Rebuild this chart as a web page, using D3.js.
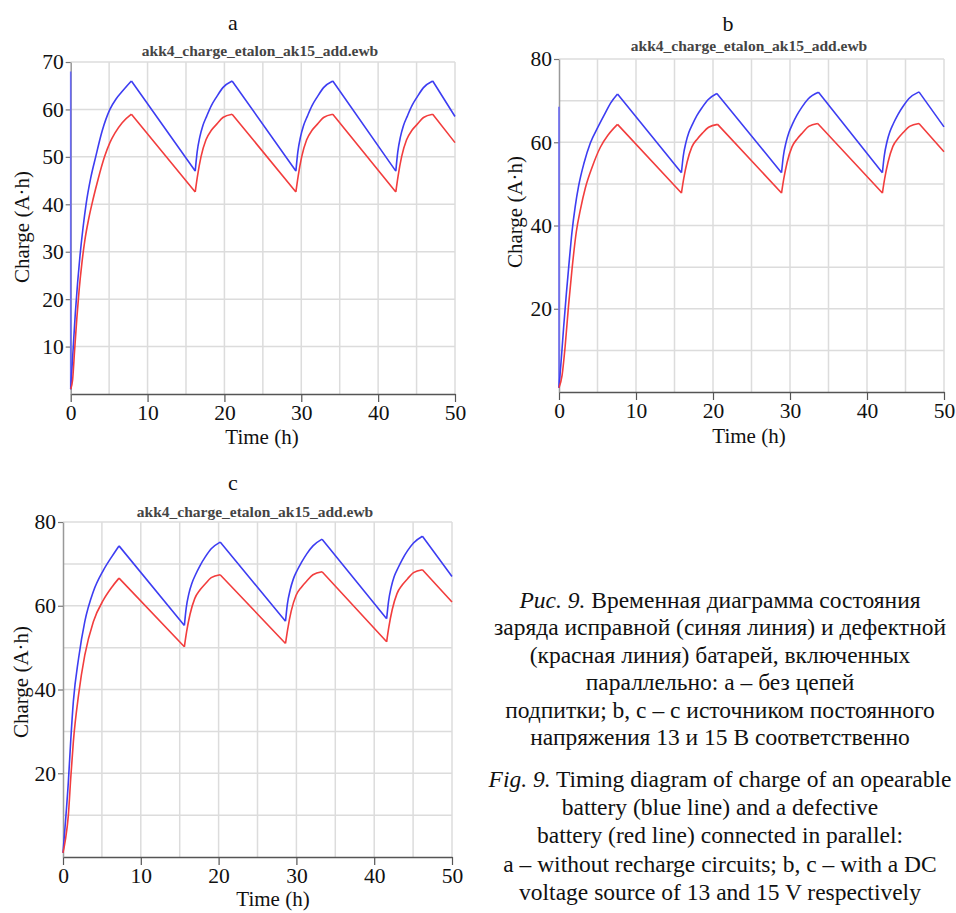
<!DOCTYPE html>
<html>
<head>
<meta charset="utf-8">
<script src="https://cdn.jsdelivr.net/npm/d3@7"></script>
<style>
  body { margin: 0; background: #fff; }
  svg text { fill: #111; }
</style>
</head>
<body>
<svg id="chart" width="956" height="913" style="font-family: 'Liberation Serif', 'DejaVu Serif', serif"></svg>
<script>
// DATA  (time h, charge A·h)
const xTicks = [0, 10, 20, 30, 40, 50];
const aYTicks = [10, 20, 30, 40, 50, 60, 70];
const bcYTicks = [20, 40, 60, 80];

// start spike of the blue trace drawn along the axis
const aBlueSpike = [[0, 68], [0, 1]];
const bBlueSpike = [[0, 68.5], [0, 1]];

const aBlue = [
  [0, 1], [0.3, 9], [0.6, 17], [0.9, 23.5], [1.2, 29], [1.6, 35], [2, 40], [2.6, 45.5], [3.25, 50], [4.1, 55.5], [5.1, 60], [5.9, 62.2], [6.6, 63.6], [7.9, 66],
  [16.2, 47], [16.45, 51], [16.8, 54.2], [17.2, 56.6], [17.7, 58.6], [18.3, 60.8], [19, 62.7], [19.8, 64.6], [21, 66],
  [29.3, 47], [29.55, 51], [29.9, 54.2], [30.3, 56.6], [30.8, 58.6], [31.4, 60.8], [32.1, 62.7], [32.9, 64.6], [34.1, 66],
  [42.3, 47], [42.55, 51], [42.9, 54.2], [43.3, 56.6], [43.8, 58.6], [44.4, 60.8], [45.1, 62.7], [45.9, 64.6], [47.1, 66],
  [50, 58.5]
];
const aRed = [
  [0, 1], [0.25, 3], [0.5, 9], [0.8, 16], [1.1, 22], [1.45, 27.5], [1.85, 32.5], [2.35, 37], [2.9, 41], [3.6, 45.5], [4.4, 50], [5.1, 53], [5.75, 55], [6.7, 57.2], [7.9, 59],
  [16.2, 42.6], [16.5, 46], [16.95, 50], [17.6, 53.6], [18.3, 55.6], [19, 56.9], [19.8, 58.3], [21, 59],
  [29.3, 42.6], [29.6, 46], [30.05, 50], [30.7, 53.6], [31.4, 55.6], [32.1, 56.9], [32.9, 58.3], [34.1, 59],
  [42.3, 42.6], [42.6, 46], [43.05, 50], [43.7, 53.6], [44.4, 55.6], [45.1, 56.9], [45.9, 58.3], [47.1, 59],
  [50, 53]
];

const bBlue = [
  [0, 1], [0.3, 8], [0.6, 15.5], [0.95, 23.5], [1.26, 30], [1.69, 38.5], [2.1, 44.5], [2.55, 49.5], [3.25, 55], [4.07, 59.8], [5.1, 63.8], [6, 67], [6.7, 69.4], [7.6, 71.6],
  [15.9, 52.7], [16.14, 56.7], [16.48, 59.9], [16.87, 62.4], [17.33, 64.3], [17.9, 66.4], [18.57, 68.3], [19.35, 70.2], [20.5, 71.7],
  [28.9, 52.7], [29.14, 56.7], [29.48, 59.9], [29.87, 62.4], [30.33, 64.4], [30.9, 66.5], [31.57, 68.5], [32.35, 70.4], [33.7, 72],
  [42, 52.7], [42.24, 56.7], [42.58, 60], [42.97, 62.5], [43.43, 64.5], [44, 66.6], [44.67, 68.6], [45.45, 70.5], [46.75, 72.1],
  [50, 63.7]
];
const bRed = [
  [0, 1], [0.4, 4], [0.8, 11], [1.25, 21], [1.69, 29.5], [2.25, 38.5], [2.8, 44], [3.42, 49], [4.3, 54], [5.37, 58.8], [6.4, 61.8], [7.6, 64.3],
  [15.9, 47.8], [16.19, 51.2], [16.63, 55.2], [17.26, 58.9], [17.97, 60.8], [18.63, 62.2], [19.43, 63.6], [20.6, 64.3],
  [28.9, 47.8], [29.19, 51.2], [29.63, 55.2], [30.26, 58.9], [30.97, 60.9], [31.63, 62.3], [32.43, 63.8], [33.6, 64.5],
  [42, 47.8], [42.29, 51.2], [42.73, 55.2], [43.36, 59], [44.07, 61], [44.73, 62.4], [45.53, 63.8], [46.75, 64.5],
  [50, 57.7]
];

const cBlue = [
  [0, 1], [0.3, 8], [0.69, 18], [1, 28], [1.33, 37.1], [2, 47.4], [2.8, 56.2], [3.9, 63.4], [5.2, 68.5], [6.3, 71.8], [7.2, 74.3],
  [15.6, 55.3], [15.84, 59.5], [16.18, 62.9], [16.57, 65.4], [17.03, 67.4], [17.62, 69.6], [18.27, 71.6], [19.05, 73.6], [20.2, 75.2],
  [28.6, 56.3], [28.84, 60.4], [29.19, 63.7], [29.59, 66.3], [30.06, 68.3], [30.67, 70.4], [31.33, 72.4], [32.13, 74.3], [33.3, 75.9],
  [41.6, 56.9], [41.84, 61], [42.18, 64.4], [42.57, 67], [43.03, 68.9], [43.62, 71.1], [44.27, 73.1], [45.05, 75], [46.2, 76.6],
  [50, 67]
];
const cRed = [
  [0, 1], [0.3, 4], [0.69, 10], [1, 19], [1.33, 27.5], [2, 38.7], [2.8, 48.2], [3.9, 56.2], [5.2, 61.4], [6.3, 64.5], [7.2, 66.6],
  [15.6, 50.2], [15.89, 53.8], [16.32, 57.9], [16.93, 61.7], [17.62, 63.8], [18.27, 65.2], [19.05, 66.7], [20.2, 67.4],
  [28.6, 51], [28.89, 54.5], [29.33, 58.7], [29.96, 62.5], [30.67, 64.5], [31.33, 65.9], [32.13, 67.4], [33.3, 68.1],
  [41.6, 51.4], [41.89, 55], [42.32, 59.1], [42.93, 62.9], [43.62, 65], [44.27, 66.4], [45.05, 67.9], [46.2, 68.6],
  [50, 60.9]
];

const fileName = "akk4_charge_etalon_ak15_add.ewb";

const captionRu = [
  ["Рис. 9.", " Временная диаграмма состояния"],
  ["", "заряда исправной (синяя линия) и дефектной"],
  ["", "(красная линия) батарей, включенных"],
  ["", "параллельно: а – без цепей"],
  ["", "подпитки; b, c – с источником постоянного"],
  ["", "напряжения 13 и 15 В соответственно"]
];
const captionEn = [
  ["Fig. 9.", " Timing diagram of charge of an opearable"],
  ["", "battery (blue line) and a defective"],
  ["", "battery (red line) connected in parallel:"],
  ["", "a – without recharge circuits; b, c – with a DC"],
  ["", "voltage source of 13 and 15 V respectively"]
];

const SERIF = "'Liberation Serif', 'DejaVu Serif', serif";
const svg = d3.select("#chart");

// split a trace into rising / falling runs so each can be smoothed
// without rounding off the sharp peaks and troughs
function runs(pts) {
  const out = [];
  let cur = [pts[0]], dir = 0;
  for (let i = 1; i < pts.length; i++) {
    const d = Math.sign(pts[i][1] - pts[i - 1][1]);
    if (dir !== 0 && d !== dir) { out.push(cur); cur = [pts[i - 1]]; }
    cur.push(pts[i]);
    dir = d;
  }
  out.push(cur);
  return out;
}

//panel drawing
function drawPanel(p) {
  const x = d3.scaleLinear().domain([0, 50]).range([p.left, p.right]);
  const y = d3.scaleLinear().domain([0, p.yMax]).range([p.bottom, p.top]);
  const g = svg.append("g");

  // grid
  g.selectAll(".vg").data(d3.range(5, 51, 5)).join("line")
    .attr("x1", d => x(d)).attr("x2", d => x(d))
    .attr("y1", p.bottom).attr("y2", p.top)
    .attr("stroke", "#dcdcdc").attr("stroke-width", 1.5);
  g.selectAll(".hg").data(d3.range(10, p.yMax + 1, 10)).join("line")
    .attr("x1", p.left).attr("x2", p.right)
    .attr("y1", d => y(d)).attr("y2", d => y(d))
    .attr("stroke", "#dcdcdc").attr("stroke-width", 1.5);

  // axes
  const xAxis = g.append("g")
    .attr("transform", `translate(0,${p.bottom})`)
    .call(d3.axisBottom(x).tickValues(xTicks).tickSize(8).tickPadding(3).tickSizeOuter(0));
  xAxis.select(".domain").attr("stroke", "#555").attr("stroke-width", 1.5);
  xAxis.selectAll(".tick line").attr("stroke", "#555").attr("stroke-width", 1.2);

  const yAxis = g.append("g")
    .attr("transform", `translate(${p.left},0)`)
    .call(d3.axisLeft(y).tickValues(p.yTicks).tickSize(5).tickPadding(2).tickSizeOuter(0));
  yAxis.select(".domain").attr("stroke", "#999").attr("stroke-width", 1.5);
  yAxis.selectAll(".tick line").attr("stroke", "#777").attr("stroke-width", 1.2);

  [xAxis, yAxis].forEach(a => a.attr("font-family", SERIF).attr("font-size", 21.5)
    .selectAll("text").attr("fill", "#111"));

  // series
  const straight = d3.line().x(d => x(d[0])).y(d => y(d[1]));
  const smooth = d3.line().x(d => x(d[0])).y(d => y(d[1])).curve(d3.curveMonotoneX);
  const traceD = pts => runs(pts).map(r => smooth(r)).join("");

  if (p.spike) g.append("path").datum(p.spike).attr("d", straight)
    .attr("fill", "none").attr("stroke", "#6a6af5").attr("stroke-width", 1.6);
  g.append("path").attr("d", traceD(p.blue))
    .attr("fill", "none").attr("stroke", "#3d3df2").attr("stroke-width", 1.6)
    .attr("stroke-linejoin", "round");
  g.append("path").attr("d", traceD(p.red))
    .attr("fill", "none").attr("stroke", "#f23d3d").attr("stroke-width", 1.6)
    .attr("stroke-linejoin", "round");

  // titles
  g.append("text").attr("x", p.letterX).attr("y", p.letterY).attr("font-family", SERIF)
    .attr("text-anchor", "middle").attr("font-size", 22).text(p.letter);
  g.append("text").attr("x", p.subX).attr("y", p.subY).attr("font-family", SERIF)
    .attr("text-anchor", "middle").attr("font-size", 15.5).style("fill", "#444")
    .attr("font-weight", "bold").text(fileName);
  g.append("text").attr("x", p.xTitleX).attr("y", p.xTitleY).attr("font-family", SERIF)
    .attr("text-anchor", "middle").attr("font-size", 21).text("Time (h)");
  g.append("text").attr("font-family", SERIF)
    .attr("transform", `translate(${p.yTitleX},${p.yTitleY}) rotate(-90)`)
    .attr("text-anchor", "middle").attr("font-size", 21).text("Charge (A·h)");
}

drawPanel({
  left: 70.7, right: 455, top: 62, bottom: 394, yMax: 70, yTicks: aYTicks,
  blue: aBlue, red: aRed, spike: aBlueSpike, letter: "a", letterX: 233, letterY: 30,
  subX: 260, subY: 56, xTitleX: 262, xTitleY: 444, yTitleX: 29, yTitleY: 227
});
drawPanel({
  left: 559, right: 944, top: 59, bottom: 392, yMax: 80, yTicks: bcYTicks,
  blue: bBlue, red: bRed, spike: bBlueSpike, letter: "b", letterX: 728, letterY: 31,
  subX: 749, subY: 51, xTitleX: 749, xTitleY: 443, yTitleX: 522, yTitleY: 212
});
drawPanel({
  left: 63, right: 452, top: 522, bottom: 857, yMax: 80, yTicks: bcYTicks,
  blue: cBlue, red: cRed, letter: "c", letterX: 233, letterY: 490,
  subX: 255, subY: 517, xTitleX: 273, xTitleY: 906, yTitleX: 28, yTitleY: 682
});

// caption
function caption(lines, y0, step) {
  lines.forEach((l, i) => {
    const t = svg.append("text").attr("x", 720).attr("y", y0 + i * step)
      .attr("font-family", SERIF).attr("text-anchor", "middle").attr("font-size", 23.5);
    if (l[0]) t.append("tspan").attr("font-style", "italic").text(l[0]);
    t.append("tspan").text(l[1]);
  });
}
caption(captionRu, 608, 27.4);
caption(captionEn, 787, 28.2);
</script>
</body>
</html>
